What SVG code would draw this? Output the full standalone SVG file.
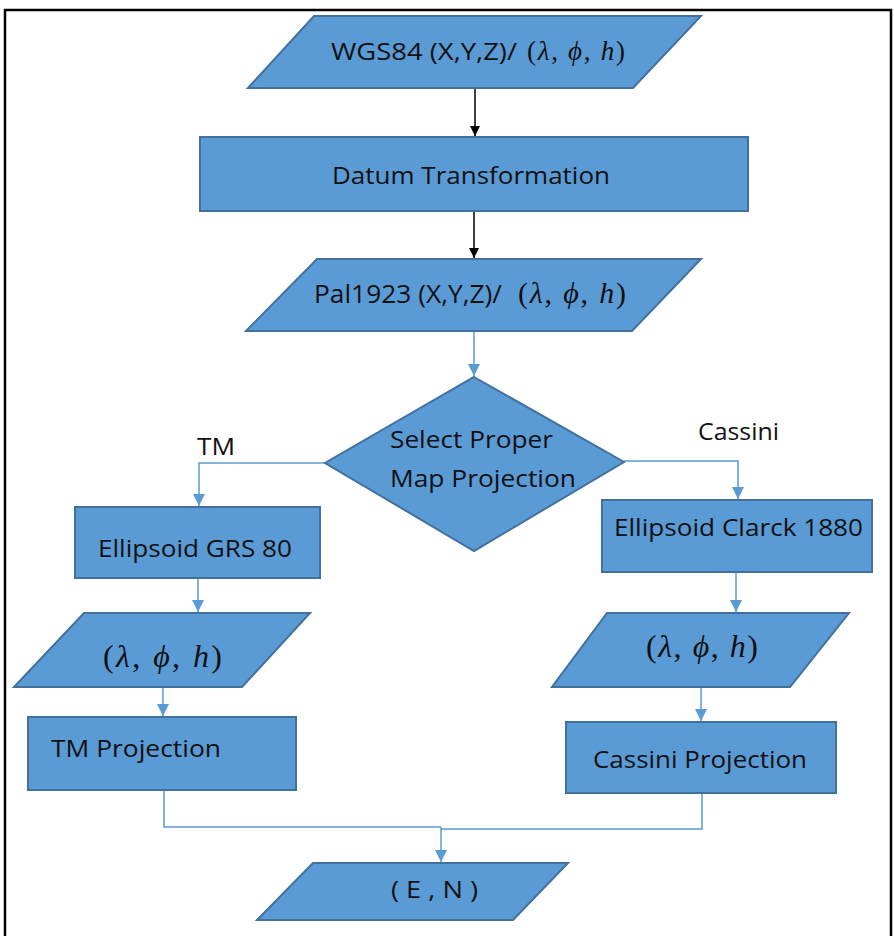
<svg xmlns="http://www.w3.org/2000/svg" width="894" height="936" viewBox="0 0 894 936">
<defs>
<style>
.shape{fill:#5B9BD5;stroke:#41719C;stroke-width:2}
.t{font-family:"Open Sans","Liberation Sans",sans-serif;font-size:24px;fill:#111}
.m{font-family:"Liberation Serif",serif;fill:#111}
.mi{font-style:italic}
.cb{fill:none;stroke:#5B9BD5;stroke-width:1.5}
.ck{fill:none;stroke:#000;stroke-width:1.5}
</style>
<marker id="ab" markerWidth="10" markerHeight="10" refX="10" refY="5" orient="auto" markerUnits="userSpaceOnUse" viewBox="0 0 10 10">
<path d="M0,0 L10,5 L0,10 z" fill="#000"/>
</marker>
<marker id="au" markerWidth="12" markerHeight="12" refX="12" refY="6" orient="auto" markerUnits="userSpaceOnUse" viewBox="0 0 12 12">
<path d="M0,0 L12,6 L0,12 z" fill="#5B9BD5"/>
</marker>
</defs>
<rect width="894" height="936" fill="#fff"/>
<path d="M5,940 V10 H891 V940" fill="none" stroke="#000" stroke-width="2.5"/>

<g id="connectors">
<path class="ck" d="M475,88 V136" marker-end="url(#ab)"/>
<path class="ck" d="M474,211 V258" marker-end="url(#ab)"/>
<path class="cb" d="M474,331 V376" marker-end="url(#au)"/>
<path class="cb" d="M325,463 H199 V506" marker-end="url(#au)"/>
<path class="cb" d="M624,461 H738 V499" marker-end="url(#au)"/>
<path class="cb" d="M198,578 V612" marker-end="url(#au)"/>
<path class="cb" d="M736,572 V612" marker-end="url(#au)"/>
<path class="cb" d="M163,687 V716" marker-end="url(#au)"/>
<path class="cb" d="M701,687 V721" marker-end="url(#au)"/>
<path class="cb" d="M164,790 V827 H441"/>
<path class="cb" d="M702,793 V829 H441"/>
<path class="cb" d="M441,827 V862" marker-end="url(#au)"/>
</g>

<g id="wgs84">
<polygon class="shape" points="314,16 701,16 633,88 248,88"/>
<text class="t" y="60"><tspan x="331" textLength="186" lengthAdjust="spacingAndGlyphs">WGS84 (X,Y,Z)/</tspan><tspan class="m" x="527" font-size="27" textLength="98" lengthAdjust="spacing">(<tspan class="mi">λ</tspan>, <tspan class="mi">ϕ</tspan>, <tspan class="mi">h</tspan>)</tspan></text>
</g>

<g id="datum">
<rect class="shape" x="200" y="137" width="548" height="74"/>
<text class="t" x="332" y="184" textLength="278" lengthAdjust="spacingAndGlyphs">Datum Transformation</text>
</g>

<g id="pal1923">
<polygon class="shape" points="317,259 701,259 632,331 246,331"/>
<text class="t" y="303"><tspan x="314" textLength="188" lengthAdjust="spacingAndGlyphs" font-size="25">Pal1923 (X,Y,Z)/</tspan><tspan class="m" x="518" font-size="30" textLength="108" lengthAdjust="spacing">(<tspan class="mi">λ</tspan>, <tspan class="mi">ϕ</tspan>, <tspan class="mi">h</tspan>)</tspan></text>
</g>

<g id="select">
<polygon class="shape" points="474,377 624,462 474,551 325,463"/>
<text class="t" x="390" y="448" textLength="163" lengthAdjust="spacingAndGlyphs">Select Proper</text>
<text class="t" x="390" y="487" textLength="186" lengthAdjust="spacingAndGlyphs">Map Projection</text>
</g>

<g id="labels">
<text class="t" x="197" y="455" textLength="38" lengthAdjust="spacingAndGlyphs">TM</text>
<text class="t" x="698" y="440" textLength="81" lengthAdjust="spacingAndGlyphs">Cassini</text>
</g>

<g id="grs80">
<rect class="shape" x="75" y="507" width="245" height="71"/>
<text class="t" x="98" y="557" textLength="194" lengthAdjust="spacingAndGlyphs">Ellipsoid GRS 80</text>
</g>

<g id="clarck">
<rect class="shape" x="602" y="500" width="270" height="72"/>
<text class="t" x="614" y="536" textLength="249" lengthAdjust="spacingAndGlyphs">Ellipsoid Clarck 1880</text>
</g>

<g id="geoLeft">
<polygon class="shape" points="84,613 310,613 242,687 14,687"/>
<text class="m" x="103" y="667" font-size="32" textLength="119" lengthAdjust="spacing">(<tspan class="mi">λ</tspan>, <tspan class="mi">ϕ</tspan>, <tspan class="mi">h</tspan>)</text>
</g>

<g id="geoRight">
<polygon class="shape" points="607,613 849,613 790,687 552,687"/>
<text class="m" x="646" y="657" font-size="32" textLength="112" lengthAdjust="spacing">(<tspan class="mi">λ</tspan>, <tspan class="mi">ϕ</tspan>, <tspan class="mi">h</tspan>)</text>
</g>

<g id="tmproj">
<rect class="shape" x="28" y="717" width="268" height="73"/>
<text class="t" x="51" y="757" textLength="170" lengthAdjust="spacingAndGlyphs">TM Projection</text>
</g>

<g id="cassproj">
<rect class="shape" x="566" y="722" width="270" height="71"/>
<text class="t" x="593" y="768" textLength="214" lengthAdjust="spacingAndGlyphs">Cassini Projection</text>
</g>

<g id="en">
<polygon class="shape" points="313,863 568,863 513,920 257,920"/>
<text class="t" x="391" y="898" textLength="87" lengthAdjust="spacingAndGlyphs">( E , N )</text>
</g>
</svg>
